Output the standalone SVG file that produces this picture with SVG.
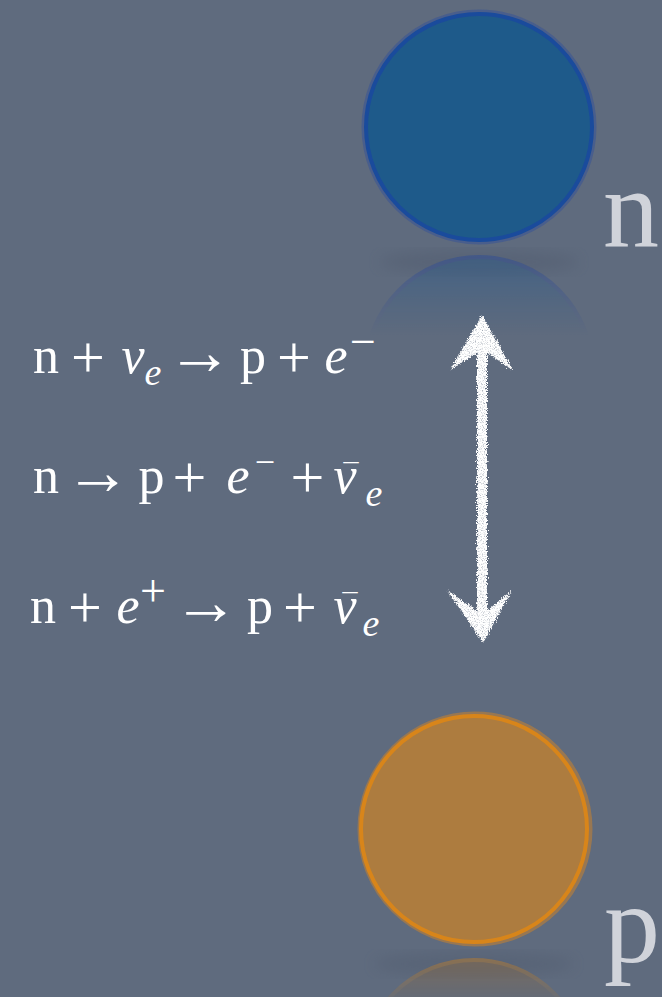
<svg xmlns="http://www.w3.org/2000/svg" width="662" height="997" viewBox="0 0 662 997">
<style>
text{font-family:"Liberation Serif","Times New Roman",serif}
.eq{font-size:52px;fill:#ffffff}
.eq text{text-anchor:middle}
.it{font-style:italic}
.sub{font-size:38px}
.op{font-size:60px}
.ar{font-size:66px}
.sup{font-size:46px}
.sup2{font-size:36px}
.bar{font-size:30px}
.lbl{font-size:112px;fill:#d0d3da}
</style>
<defs>
<filter id="chalk" x="-20%" y="-5%" width="140%" height="110%">
<feTurbulence type="fractalNoise" baseFrequency="0.85" numOctaves="2" seed="5" result="n"/>
<feDisplacementMap in="SourceGraphic" in2="n" scale="6" xChannelSelector="R" yChannelSelector="G" result="d"/>
<feColorMatrix in="n" type="matrix" values="0 0 0 0 0  0 0 0 0 0  0 0 0 0 0  0 0 0 -1.5 1.75" result="m"/>
<feComposite in="d" in2="m" operator="in"/>
</filter>
<filter id="blur6"><feGaussianBlur stdDeviation="7"/></filter>
<linearGradient id="fadeN" x1="0" y1="257" x2="0" y2="335" gradientUnits="userSpaceOnUse">
<stop offset="0" stop-color="#fff" stop-opacity="0.5"/><stop offset="1" stop-color="#fff" stop-opacity="0"/>
</linearGradient>
<linearGradient id="fadeP" x1="0" y1="960" x2="0" y2="1010" gradientUnits="userSpaceOnUse">
<stop offset="0" stop-color="#fff" stop-opacity="0.55"/><stop offset="1" stop-color="#fff" stop-opacity="0"/>
</linearGradient>
<mask id="mN"><rect x="300" y="250" width="360" height="100" fill="url(#fadeN)"/></mask>
<mask id="mP"><rect x="300" y="952" width="360" height="60" fill="url(#fadeP)"/></mask>
</defs>
<rect width="662" height="997" fill="#5f6b7e"/>

<g id="node-n">
<ellipse cx="479" cy="262" rx="100" ry="12" fill="#4a5366" opacity="0.3" filter="url(#blur6)"/>
<g mask="url(#mN)">
<circle cx="479" cy="370" r="113" fill="#2a5a8a" stroke="#2f4d96" stroke-width="4"/>
</g>
<circle cx="479" cy="127" r="115" fill="none" stroke="#33519a" stroke-opacity="0.5" stroke-width="5"/>
<circle cx="479" cy="127" r="113" fill="#1e5a8a" stroke="#1a4b9c" stroke-width="4"/>
<text class="lbl" x="603" y="247">n</text>
</g>

<g id="node-p">
<ellipse cx="474" cy="964" rx="100" ry="12" fill="#4a5366" opacity="0.28" filter="url(#blur6)"/>
<g mask="url(#mP)">
<circle cx="474" cy="1073" r="113" fill="#8a6a45" stroke="#b07a35" stroke-width="4"/>
</g>
<circle cx="475" cy="829" r="115" fill="none" stroke="#c6822e" stroke-opacity="0.55" stroke-width="5"/>
<circle cx="474" cy="829" r="113" fill="#ad7c3f" stroke="#d8851a" stroke-width="4"/>
<text class="lbl" x="604" y="962">p</text>
</g>

<g id="equations" class="eq">
<text x="46" y="373">n</text>
<text x="88" y="377" class="op">+</text>
<text x="133" y="373" class="it">ν</text>
<text x="153" y="385" class="it sub">e</text>
<text x="200" y="374" class="ar">→</text>
<text x="253" y="373">p</text>
<text x="294" y="377" class="op">+</text>
<text x="336" y="373" class="it">e</text>
<text x="363" y="357" class="sup">−</text>

<text x="46" y="493">n</text>
<text x="98" y="494" class="ar">→</text>
<text x="151.5" y="493">p</text>
<text x="189.5" y="497" class="op">+</text>
<text x="238" y="493" class="it">e</text>
<text x="265" y="474" class="sup2">−</text>
<text x="307.5" y="497" class="op">+</text>
<text x="345" y="493" class="it">ν</text>
<text x="351" y="484" class="bar">¯</text>
<text x="374" y="506" class="it sub">e</text>

<text x="43" y="623">n</text>
<text x="85" y="627" class="op">+</text>
<text x="128" y="623" class="it">e</text>
<text x="153" y="606" class="sup">+</text>
<text x="206" y="624" class="ar">→</text>
<text x="260" y="623">p</text>
<text x="300" y="627" class="op">+</text>
<text x="345" y="623" class="it">ν</text>
<text x="350" y="614" class="bar">¯</text>
<text x="371" y="636" class="it sub">e</text>
</g>

<g id="connectors">
<g filter="url(#chalk)" fill="#ffffff">
<path d="M482,315 L513,370 L487,353 L487,611 L512,590 L483,643 L447,590 L477,611 L477,353 L450,370 Z"/>
</g>
</g>
</svg>
